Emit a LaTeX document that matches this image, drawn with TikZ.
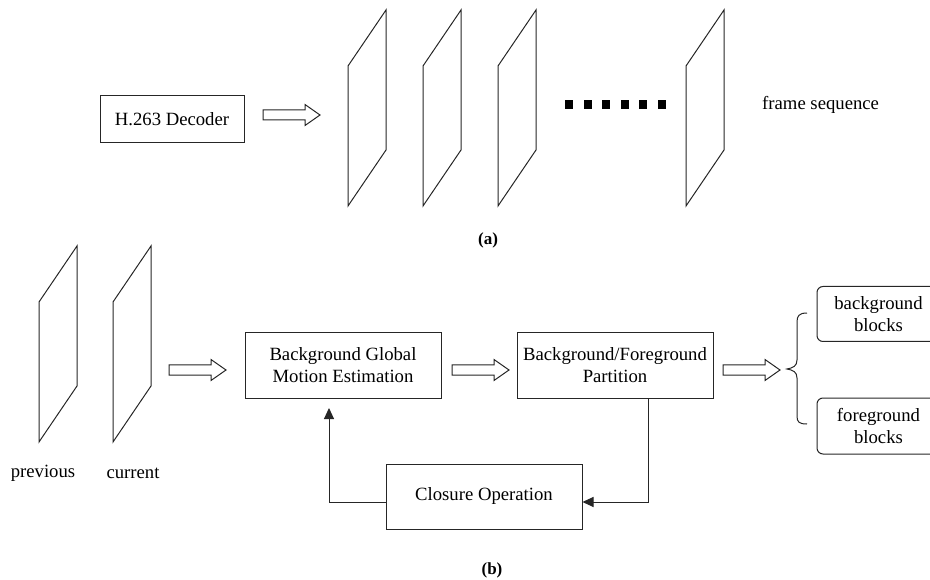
\documentclass[tikz,border=0pt]{standalone}
\usepackage{fontspec}
\setmainfont{Liberation Serif}
\usetikzlibrary{arrows.meta}
\newcommand\hollowarrow[2]{%
  \draw[hollow] (#1,#2-5) -- ++(42,0) -- ++(0,-5.5) -- ++(15,10.5) -- ++(-15,10.5) -- ++(0,-5.5) -- ++(-42,0) -- cycle;}
\newcommand\vframe[2]{%
  \draw[frm] (#1,#2) -- ++(38,-56) -- ++(0,140) -- ++(-38,56) -- cycle;}
\begin{document}
\begin{tikzpicture}[x=1pt,y=-1pt,
  lbl/.style={font=\fontsize{18.7}{22}\selectfont, inner sep=0pt},
  box/.style={draw=black!85, line width=1pt, lbl, align=center, minimum width=196pt, minimum height=65pt, inner sep=0pt},
  rbox/.style={draw=black!85, line width=1pt, rounded corners=6pt, lbl, align=center, minimum width=123pt, minimum height=55pt},
  frm/.style={draw=black!85, line width=1pt, line join=miter},
  hollow/.style={draw=black!85, line width=1pt, fill=white, line join=miter},
  fb/.style={draw=black!85, line width=1pt, -{Triangle[length=11pt,width=10pt]}},
]
\useasboundingbox (0,0) rectangle (930,580);
\clip (0,0) rectangle (930,580);

% ---- (a) ----
\node[box, minimum width=144pt, minimum height=47pt] (dec) at (172,119.5) {H.263 Decoder};
\hollowarrow{263}{115}
\vframe{348}{66}
\vframe{423}{66}
\vframe{498}{66}
\foreach \i in {0,...,5} \fill (565+18.6*\i,100) rectangle ++(8,9);
\vframe{686}{66}
\node[lbl, anchor=west] (fs) at (762,105) {frame sequence};
\node[lbl, font=\fontsize{17}{20}\selectfont\bfseries] (capa) at (488,240) {(a)};

% ---- (b) ----
\vframe{39}{302}
\vframe{113}{302}
\node[lbl] (prev) at (43,473) {previous};
\node[lbl] (cur) at (133,473) {current};
\hollowarrow{169}{370}
\node[box] (bgme) at (343,365.5) {Background Global\\Motion Estimation};
\hollowarrow{452}{370}
\node[box] (part) at (615,365.5) {Background/Foreground\\Partition};
\hollowarrow{723}{370}
\draw[draw=black!85, line width=1pt] (807,313) .. controls (799,313) and (797,316) .. (797,322) -- (797,360)
  .. controls (797,366) and (793,368) .. (787,369)
  .. controls (793,370) and (797,372) .. (797,378) -- (797,416)
  .. controls (797,422) and (799,424) .. (807,424);
\node[rbox] (bgb) at (878.5,314) {background\\blocks};
\node[rbox, minimum height=56pt] (fgb) at (878.5,426) {foreground\\blocks};
\node[box] (clo) at (484,496.5) {Closure Operation};
\coordinate (p1) at (648,502);
\draw[fb] (part.south -| p1) -- (p1) -- (clo.east |- p1);
\coordinate (p2) at (329,502);
\coordinate (p3) at (329,408);
\draw[fb] (clo.west |- p2) -- (p2) -- (p3);
\node[lbl, font=\fontsize{17}{20}\selectfont\bfseries] (capb) at (492,570) {(b)};
\end{tikzpicture}
\end{document}
